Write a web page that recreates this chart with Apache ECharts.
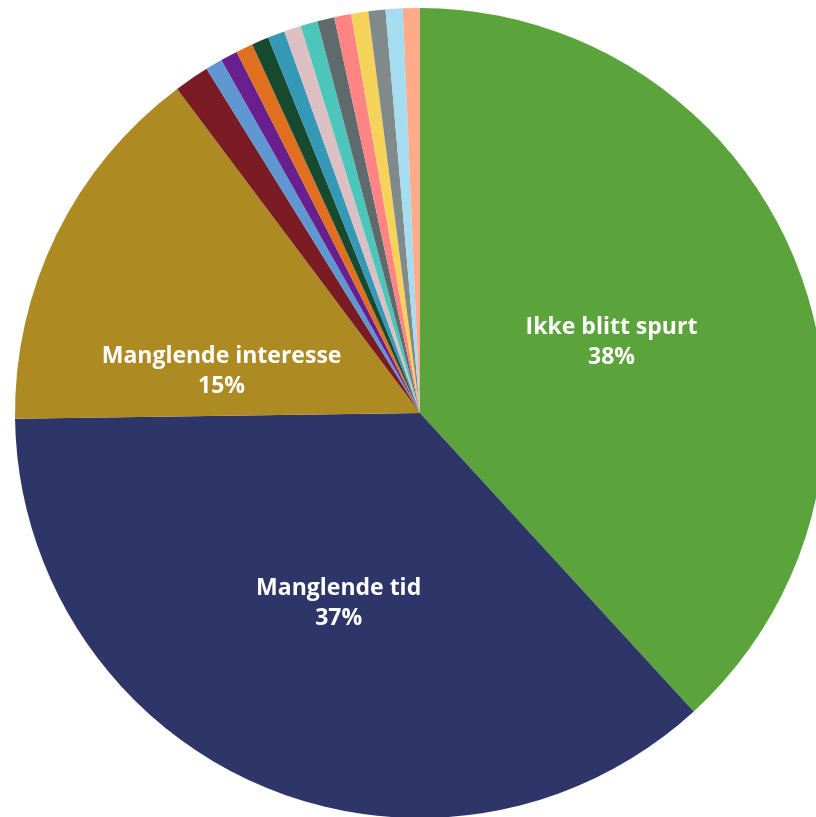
<!DOCTYPE html>
<html><head><meta charset="utf-8">
<script src="https://cdn.jsdelivr.net/npm/echarts@6/dist/echarts.min.js"></script>
<style>html,body{margin:0;padding:0;background:#fff}#c{width:816px;height:817px}</style>
</head><body><div id="c"></div>
<script>
const categories = ["Ikke blitt spurt","Manglende tid","Manglende interesse","Annet 1","Annet 2","Annet 3","Annet 4","Annet 5","Annet 6","Annet 7","Annet 8","Annet 9","Annet 10","Annet 11","Annet 12","Annet 13","Annet 14"];
const values = [38.2,36.6,15.0,1.4,0.68,0.68,0.68,0.68,0.68,0.68,0.68,0.68,0.68,0.68,0.68,0.68,0.68];
const colors = ["#5BA33B","#2E3669","#AD8A22","#7B1C25","#5F97D2","#6A1F8E","#E07020","#174A2E","#3498B6","#DCBFC3","#4CC5BA","#5F6A6C","#FF8585","#F5D35A","#808A8A","#A6DCEF","#FFAA88"];
const shownPercent = ["38%","37%","15%"];
const labelOffsets = [[0,4],[0,2],[-14,49]];
const chart = echarts.init(document.getElementById('c'));
const data = categories.map((n,i)=>{
  const d = {name:n, value:values[i], itemStyle:{color:colors[i]}};
  if (i < 3) {
    d.label = {show:true, formatter: n + '\n' + shownPercent[i], offset: labelOffsets[i]};
  } else {
    d.label = {show:false};
  }
  return d;
});
chart.setOption({
  animation:false,
  series:[{
    type:'pie',
    center:[420,413],
    radius:[0,405],
    startAngle:90,
    clockwise:true,
    avoidLabelOverlap:false,
    label:{position:'inside', color:'#fff', fontWeight:'bold', fontSize:23, lineHeight:30, fontFamily:'Open Sans'},
    labelLine:{show:false},
    itemStyle:{borderWidth:0},
    emphasis:{disabled:true},
    data:data
  }]
});
</script></body></html>
